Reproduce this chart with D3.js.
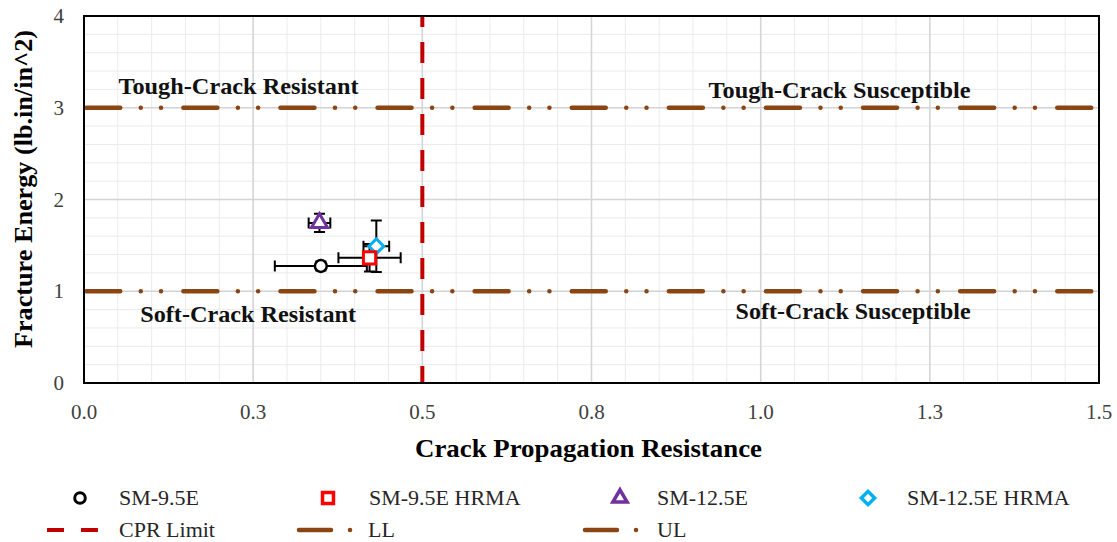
<!DOCTYPE html>
<html>
<head>
<meta charset="utf-8">
<script src="https://cdn.jsdelivr.net/npm/d3@7"></script>
<style>
  body { margin: 0; background: #fff; }
  svg { font-family: "Liberation Serif", "Times New Roman", serif; }
</style>
</head>
<body>
<svg width="1117" height="542"></svg>
<script>
// series data
var seriesNames = ["SM-9.5E", "SM-9.5E HRMA", "SM-12.5E", "SM-12.5E HRMA"];
var cprValues = [0.350, 0.422, 0.348, 0.432];
var feValues = [1.275, 1.365, 1.745, 1.490];
var cprErr = [0.068, 0.046, 0.016, 0.019];
var feErr = [0.05, 0.15, 0.10, 0.28];

var xTicks = [0, 0.25, 0.5, 0.75, 1.0, 1.25, 1.5];
var xTickLabels = ["0.0", "0.3", "0.5", "0.8", "1.0", "1.3", "1.5"];
var yTicks = [0, 1, 2, 3, 4];

var cprLimit = 0.5, lowerLimit = 1, upperLimit = 3;

var zoneLabels = [
  { text: "Tough-Crack Resistant", x: 0.051, y: 3.15, w: 240 },
  { text: "Tough-Crack Susceptible", x: 0.923, y: 3.11, w: 262 },
  { text: "Soft-Crack Resistant", x: 0.083, y: 0.66, w: 216 },
  { text: "Soft-Crack Susceptible", x: 0.963, y: 0.70, w: 235 }
];

var svg = d3.select("svg");
var mLeft = 84, mRight = 1099, mTop = 16, mBottom = 383;

var x = d3.scaleLinear().domain([0, 1.5]).range([mLeft, mRight]);
var y = d3.scaleLinear().domain([0, 4]).range([mBottom, mTop]);

var brown = "#8B4513", red = "#C00000";

// grid
var grid = svg.append("g");
grid.selectAll(".xminor").data(d3.range(0, 1.5001, 0.05)).enter().append("line")
    .attr("x1", function(d) { return x(d); }).attr("x2", function(d) { return x(d); })
    .attr("y1", mTop).attr("y2", mBottom)
    .attr("stroke", "#ebebeb").attr("stroke-width", 1);
grid.selectAll(".yminor").data(d3.range(0, 4.001, 0.2)).enter().append("line")
    .attr("y1", function(d) { return y(d); }).attr("y2", function(d) { return y(d); })
    .attr("x1", mLeft).attr("x2", mRight)
    .attr("stroke", "#ebebeb").attr("stroke-width", 1);
grid.selectAll(".xmajor").data(xTicks).enter().append("line")
    .attr("x1", function(d) { return x(d); }).attr("x2", function(d) { return x(d); })
    .attr("y1", mTop).attr("y2", mBottom)
    .attr("stroke", "#d4d4d4").attr("stroke-width", 1.5);
grid.selectAll(".ymajor").data(yTicks).enter().append("line")
    .attr("y1", function(d) { return y(d); }).attr("y2", function(d) { return y(d); })
    .attr("x1", mLeft).attr("x2", mRight)
    .attr("stroke", "#d4d4d4").attr("stroke-width", 1.5);

// limit lines (long dash, dot, dot)
svg.selectAll(".lim").data([lowerLimit, upperLimit]).enter().append("line")
    .attr("x1", mLeft + 2.25).attr("x2", mRight - 2)
    .attr("y1", function(d) { return y(d); }).attr("y2", function(d) { return y(d); })
    .attr("stroke", brown).attr("stroke-width", 4.5)
    .attr("stroke-linecap", "round")
    .attr("stroke-dasharray", "34 20.5 0.05 20.2 0.05 22.3");

svg.append("line")
    .attr("x1", x(cprLimit)).attr("x2", x(cprLimit))
    .attr("y1", mTop).attr("y2", mBottom)
    .attr("stroke", red).attr("stroke-width", 4)
    .attr("stroke-dasharray", "21 15")
    .attr("stroke-dashoffset", 10);

// plot border
svg.append("rect")
    .attr("x", mLeft).attr("y", mTop)
    .attr("width", mRight - mLeft).attr("height", mBottom - mTop)
    .attr("fill", "none").attr("stroke", "#000").attr("stroke-width", 2);

// zone labels
svg.selectAll(".zone").data(zoneLabels).enter().append("text")
    .attr("x", function(d) { return x(d.x); })
    .attr("y", function(d) { return y(d.y); })
    .attr("font-size", "23px").attr("font-weight", "bold")
    .attr("textLength", function(d) { return d.w; })
    .attr("lengthAdjust", "spacingAndGlyphs")
    .attr("fill", "#111")
    .text(function(d) { return d.text; });

// error bars
var pts = seriesNames.map(function(n, i) {
  return { name: n, x: cprValues[i], y: feValues[i], ex: cprErr[i], ey: feErr[i], i: i };
});
var cap = 5.5;
var eb = svg.append("g").attr("stroke", "#000").attr("stroke-width", 2).attr("fill", "none");
pts.forEach(function(d) {
  var x0 = x(d.x - d.ex), x1 = x(d.x + d.ex), yc = y(d.y);
  var y0 = y(d.y - d.ey), y1 = y(d.y + d.ey), xc = x(d.x);
  eb.append("path").attr("d",
    "M" + x0 + "," + yc + "H" + x1 +
    "M" + x0 + "," + (yc - cap) + "V" + (yc + cap) +
    "M" + x1 + "," + (yc - cap) + "V" + (yc + cap) +
    "M" + xc + "," + y0 + "V" + y1 +
    "M" + (xc - cap) + "," + y0 + "H" + (xc + cap) +
    "M" + (xc - cap) + "," + y1 + "H" + (xc + cap));
});

// markers
var markerStyle = [
  { type: d3.symbolCircle, size: 110, color: "#000", sw: 2.5, rot: 0 },
  { type: d3.symbolSquare, size: 150, color: "#FF0000", sw: 3, rot: 0 },
  { type: d3.symbolTriangle, size: 110, color: "#7030A0", sw: 3, rot: 0 },
  { type: d3.symbolSquare, size: 110, color: "#00B0F0", sw: 3, rot: 45 }
];
var drawOrder = [0, 2, 3, 1];
drawOrder.forEach(function(i) {
  var d = pts[i], m = markerStyle[i];
  svg.append("path")
    .attr("d", d3.symbol().type(m.type).size(m.size)())
    .attr("transform", "translate(" + x(d.x) + "," + y(d.y) + ") rotate(" + m.rot + ")")
    .attr("fill", "#fff").attr("stroke", m.color).attr("stroke-width", m.sw);
});

// ticks
svg.selectAll(".xt").data(xTicks).enter().append("text")
    .attr("x", function(d) { return x(d); }).attr("y", 419)
    .attr("text-anchor", "middle").attr("font-size", "21px").attr("fill", "#404040")
    .text(function(d, i) { return xTickLabels[i]; });
svg.selectAll(".yt").data(yTicks).enter().append("text")
    .attr("x", 64).attr("y", function(d) { return y(d) + 7; })
    .attr("text-anchor", "end").attr("font-size", "21px").attr("fill", "#404040")
    .text(function(d) { return d; });

// axis titles
svg.append("text")
    .attr("x", 415).attr("y", 457)
    .attr("font-size", "25px").attr("font-weight", "bold")
    .attr("textLength", 347).attr("lengthAdjust", "spacingAndGlyphs")
    .text("Crack Propagation Resistance");
svg.append("text")
    .attr("transform", "translate(32,348) rotate(-90)")
    .attr("font-size", "25px").attr("font-weight", "bold")
    .attr("textLength", 318).attr("lengthAdjust", "spacingAndGlyphs")
    .text("Fracture Energy (lb.in/in^2)");

// legend
var legendPts = [
  { x: 80, tx: 119 }, { x: 328, tx: 369 }, { x: 620, tx: 657 }, { x: 868, tx: 907 }
];
legendPts.forEach(function(p, i) {
  var m = markerStyle[i];
  svg.append("path")
    .attr("d", d3.symbol().type(m.type).size(m.size * 0.8)())
    .attr("transform", "translate(" + p.x + ",498) rotate(" + m.rot + ")")
    .attr("fill", "#fff").attr("stroke", m.color).attr("stroke-width", m.sw + 0.5);
  svg.append("text").attr("x", p.tx).attr("y", 505)
    .attr("font-size", "22px").attr("fill", "#262626").text(seriesNames[i]);
});

var legendLines = [
  { name: "CPR Limit", x0: 47, x1: 98, tx: 119, color: red, dash: "17 17", cap: "butt", w: 4 },
  { name: "LL", x0: 299, x1: 352, tx: 368, color: brown, dash: "32 19 0.05 30", cap: "round", w: 4.5 },
  { name: "UL", x0: 585, x1: 639, tx: 657, color: brown, dash: "32 19 0.05 30", cap: "round", w: 4.5 }
];
legendLines.forEach(function(l) {
  svg.append("line")
    .attr("x1", l.x0).attr("x2", l.x1).attr("y1", 530).attr("y2", 530)
    .attr("stroke", l.color).attr("stroke-width", l.w)
    .attr("stroke-linecap", l.cap).attr("stroke-dasharray", l.dash);
  svg.append("text").attr("x", l.tx).attr("y", 537)
    .attr("font-size", "22px").attr("fill", "#262626").text(l.name);
});
</script>
</body>
</html>
